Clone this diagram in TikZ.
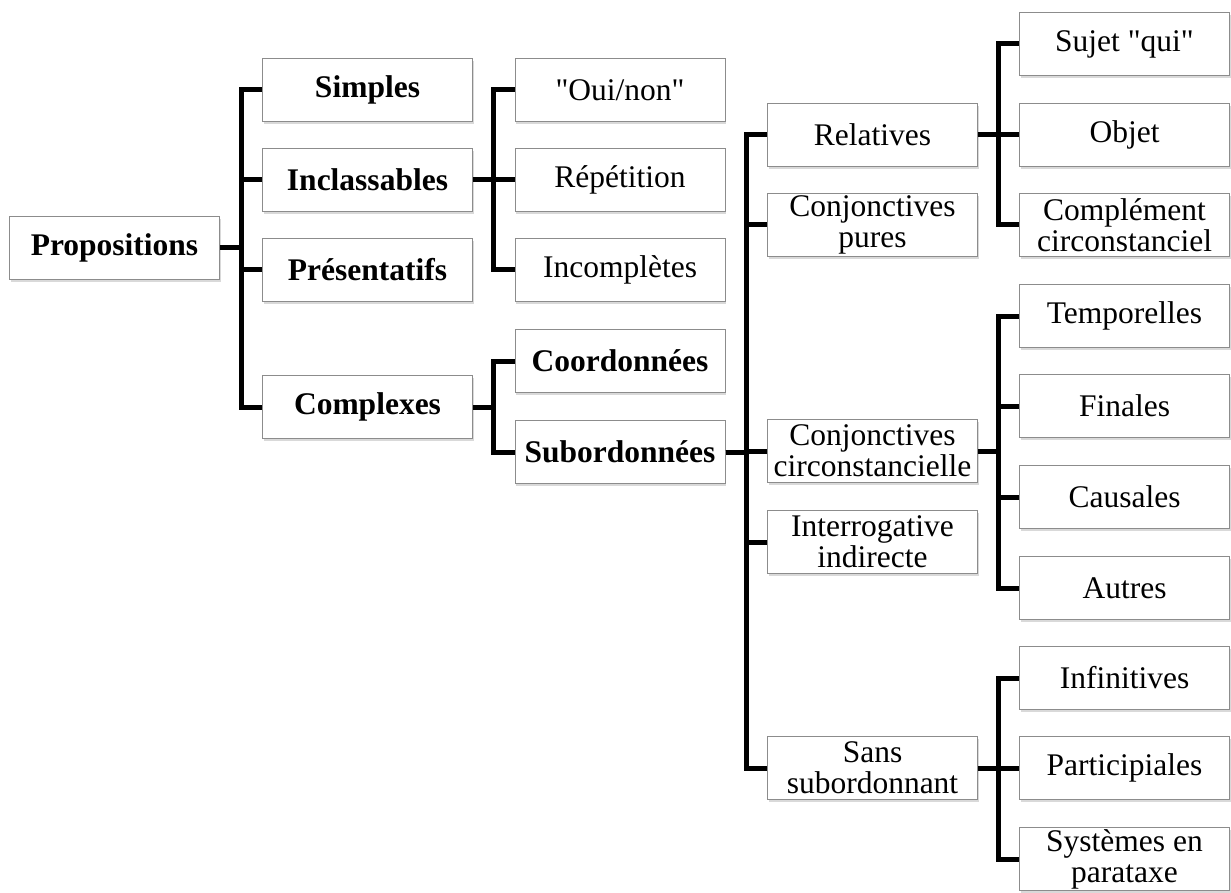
\documentclass[tikz,border=0pt]{standalone}
\usepackage{fontspec}
\setmainfont{Liberation Serif}[Ligatures=TeXOff]
\usetikzlibrary{calc,shadows}
\tikzset{ box/.style = { rectangle % plain box
        , draw = black!45
        , line width = 0.5pt
        , fill = white
        , minimum width = 105pt
        , minimum height = 31.5pt
        , inner sep = 1pt
        , align = center
        , font = \fontsize{15.75}{15.5}\selectfont
        , drop shadow = {shadow xshift=0.7pt, shadow yshift=-1.2pt, opacity=0.3}
        }
        , bbox/.style = { box % bold box
        , font = \fontsize{15.75}{15.5}\selectfont\bfseries
        }
        }

\begin{document}
\begin{tikzpicture}[x=0.5pt, y=-0.5pt,
        edge_style/.style={draw=black, line width=2.5pt, line join=miter},
        branch/.style={to path={(\tikztostart.east) -| ($(\tikztostart.east)!0.5!(\tikztotarget.west)$) |- (\tikztotarget.west)}}]
        \useasboundingbox (0,0) rectangle (1231,893);

        \node [bbox](n0) at (114.5,248) {Propositions};

        \node [bbox](n1) at (367.5,90) {Simples};
        \node [bbox](n2) at (367.5,180) {Inclassables};
        \node [bbox](n3) at (367.5,270) {Présentatifs};
        \node [bbox](n4) at (367.5,407) {Complexes};

        \node [box](n21) at (620,90) {"Oui/non"};
        \node [box](n22) at (620,180) {Répétition};
        \node [box](n23) at (620,270) {Incomplètes};
        \node [bbox](n41) at (620,361) {Coordonnées};
        \node [bbox](n42) at (620,452) {Subordonnées};

        \node [box](s1) at (872.5,135) {Relatives};
        \node [box](s2) at (872.5,225) {Conjonctives\\pures};
        \node [box](s3) at (872.5,451) {Conjonctives\\circonstancielle};
        \node [box](s4) at (872.5,542) {Interrogative\\indirecte};
        \node [box](s5) at (872.5,768) {Sans\\subordonnant};

        \node [box](s11) at (1124.5,44) {Sujet "qui"};
        \node [box](s12) at (1124.5,135) {Objet};
        \node [box](s13) at (1124.5,225) {Complément\\circonstanciel};
        \node [box](s31) at (1124.5,316) {Temporelles};
        \node [box](s32) at (1124.5,406) {Finales};
        \node [box](s33) at (1124.5,497) {Causales};
        \node [box](s34) at (1124.5,588) {Autres};
        \node [box](s51) at (1124.5,678) {Infinitives};
        \node [box](s52) at (1124.5,768) {Participiales};
        \node [box](s53) at (1124.5,859) {Systèmes en\\parataxe};

        \foreach \a/\b in {n0/n1,n0/n2,n0/n3,n0/n4,n2/n21,n2/n22,n2/n23,n4/n41,n4/n42,
            n42/s1,n42/s2,n42/s3,n42/s4,n42/s5,s1/s11,s1/s12,s1/s13,
            s3/s31,s3/s32,s3/s33,s3/s34,s5/s51,s5/s52,s5/s53}
            \draw [edge_style] (\a) to[branch] (\b);

        \end{tikzpicture}
\end{document}
